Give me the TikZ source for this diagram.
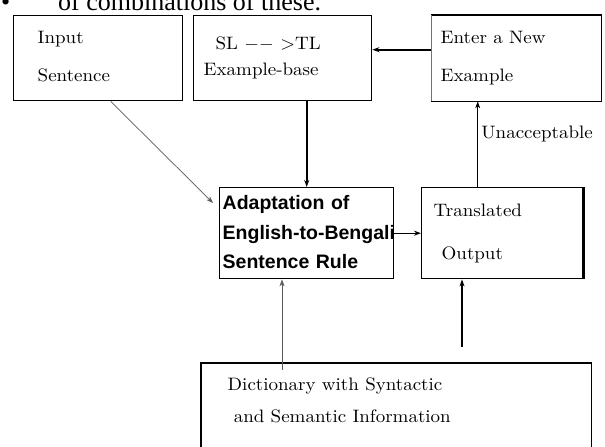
\documentclass[tikz,border=0pt]{standalone}
\usepackage{graphicx}
\usepackage{fontspec}
\newfontfamily\arialfont{Liberation Sans}
\newfontfamily\timesfont{Liberation Serif}
\usetikzlibrary{arrows.meta}

\newcommand{\cmbig}[1]{\scalebox{1.9}[1.8]{\fontsize{10}{12}\selectfont\begin{tabular}{@{}l@{}}#1\end{tabular}}}

\begin{document}
\begin{tikzpicture}[x=1pt,y=-1pt,>={Stealth[length=7pt,width=5pt]},
  blk/.style={draw,line width=1.4pt,rectangle,anchor=north west,align=left,inner ysep=0pt},
  heavy/.style={line width=1.6pt},
  faint/.style={line width=0.7pt,black!65}]
  \clip (0,0) rectangle (605,447);

  \node[anchor=base west,inner sep=0pt,font=\timesfont\fontsize{26}{30}\selectfont] (bul) at (1,10) {\textbullet};
  \node[anchor=base west,inner sep=0pt,font=\timesfont\fontsize{26}{30}\selectfont] (lead) at (58,10) {of combinations of these.};

  \node[blk,minimum width=169pt,minimum height=85pt,inner xsep=24pt,text width=121pt] (inp) at (13,15) {\cmbig{Input\\[8.6pt]Sentence}};
  \node[blk,minimum width=178pt,minimum height=85pt,inner xsep=10pt,text width=158pt] (exb) at (193,15) {\cmbig{\hspace*{6.3pt}SL $--$ $>$TL\\[2.4pt]Example-base}};
  \node[blk,draw=none,minimum width=169pt,minimum height=85pt,inner xsep=9pt,text width=151pt] (ent) at (431,15) {\cmbig{Enter a New\\[9.1pt]Example}};
  \node[blk,minimum width=174pt,minimum height=91pt,inner xsep=3pt,text width=168pt,font=\arialfont\bfseries\fontsize{19.5}{29.5}\selectfont] (ada) at (219,187) {\begin{tabular}{@{}l@{}}Adaptation of\\English-to-Bengali\\Sentence Rule\end{tabular}};
  \node[blk,minimum width=161pt,minimum height=91pt,inner xsep=12pt,text width=137pt] (trn) at (421,187) {\cmbig{Translated\\[11.9pt]\hspace*{4.2pt}Output}};
  \node[blk,draw=none,minimum width=389pt,minimum height=77pt,inner xsep=26pt,text width=337pt] (dic) at (201,363) {\cmbig{Dictionary with Syntactic\\[6.3pt]\hspace*{3.2pt}and Semantic Information}};

  % frames drawn side by side
  \draw[line width=1.4pt] (ent.north west) -- (ent.north east) -- (ent.south east) -- (ent.south west);
  \draw[line width=0.9pt,black!55] (ent.north west) -- (ent.south west);
  \draw[line width=3pt] (trn.north east) -- (trn.south east);
  \draw[line width=1.4pt] ([yshift=-40pt]dic.south west) -- (dic.north west) -- (dic.north east) -- ([yshift=-40pt]dic.south east);

  \coordinate (dicA) at (282,370);
  \coordinate (dicB) at (462,347);

  \path[->]
    ([xshift=12.5pt]inp.south) edge[faint] ([xshift=-6pt,yshift=-16pt]ada.north west)
    (exb.south -| ada.north) edge[heavy] (ada.north)
    ([yshift=8.5pt]ent.west) edge[heavy] ([yshift=8.5pt]exb.east)
    ([xshift=-24.5pt]trn.north) edge[line width=0.8pt] node[right,pos=0.62] {\cmbig{Unacceptable}} ([xshift=-24.5pt]trn.north |- ent.south)
    (ada.east) edge[line width=1.2pt] (trn.west)
    (dicA) edge[faint] (dicA |- ada.south)
    (dicB) edge[heavy] (dicB |- trn.south);
\end{tikzpicture}
\end{document}
